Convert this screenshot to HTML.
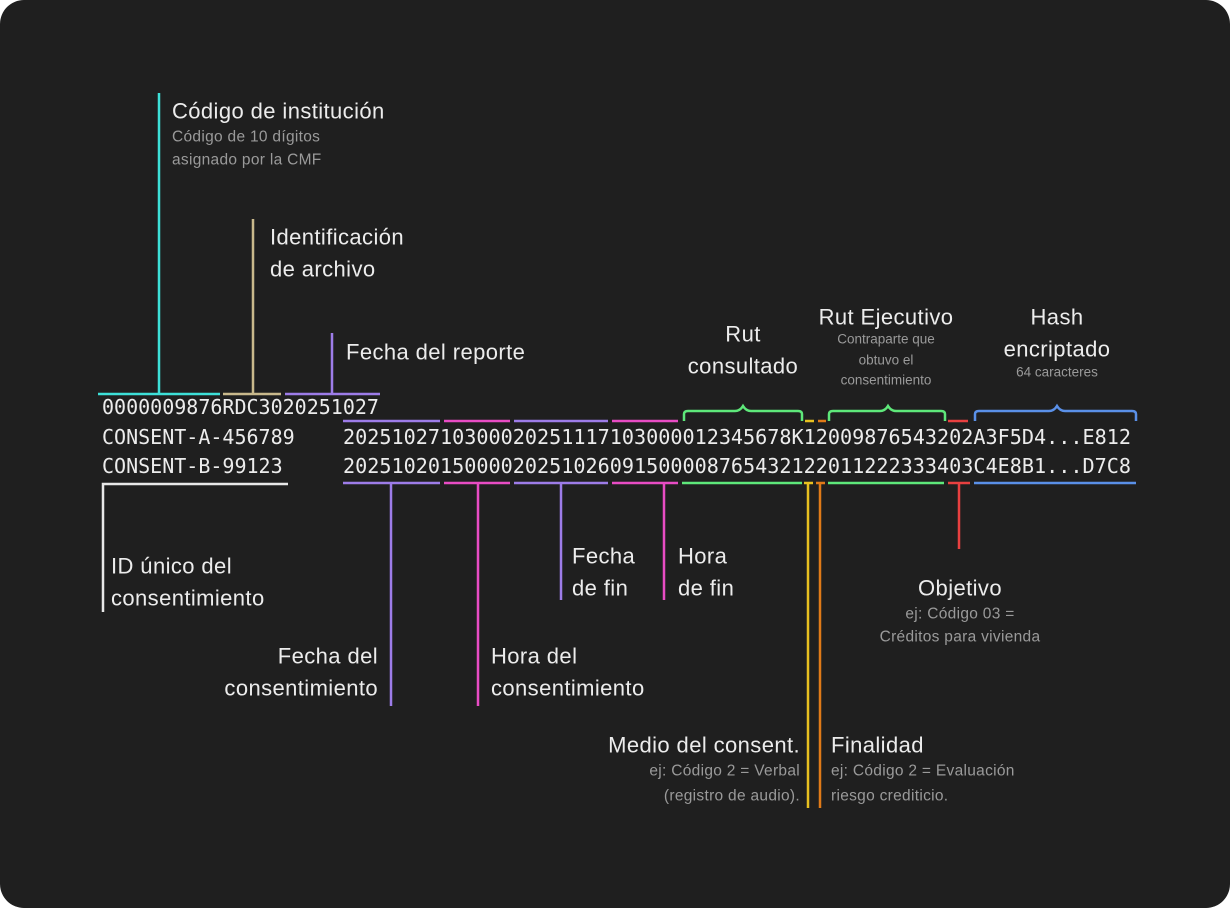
<!DOCTYPE html>
<html><head><meta charset="utf-8"><style>
html,body{margin:0;padding:0;background:#fff;}
svg{display:block}
.l{font-family:"Liberation Sans",sans-serif;font-size:22px;fill:#ececec;letter-spacing:0.4px}
.s{font-family:"Liberation Sans",sans-serif;font-size:15.5px;fill:#9a9a9a;letter-spacing:0.3px}
.xs{font-family:"Liberation Sans",sans-serif;font-size:13.5px;fill:#9a9a9a}
.m{font-family:"DejaVu Sans Mono","Liberation Mono",monospace;font-size:20px;fill:#ececec}
</style></head><body>
<svg width="1230" height="908" viewBox="0 0 1230 908">
<rect x="0" y="0" width="1230" height="908" rx="24" fill="#1f1f1f"/>
<g fill="none" stroke-width="2.5">
<path d="M159 93V394M98 394H220" stroke="#3de0d8"/>
<path d="M253 219V394M223 394H281" stroke="#c9b98c"/>
<path d="M332 333V394M285 394H380" stroke="#9d7ce8"/>
<path d="M343 421H440M514 421H608" stroke="#9d7ce8"/>
<path d="M444 421H510M612 421H678" stroke="#e84cc4"/>
<path d="M805 421H814" stroke="#e8c020"/>
<path d="M818 421H826" stroke="#e07a18"/>
<path d="M948 421H968" stroke="#e84040"/>
<path d="M684 421V414Q684 411 688 411H735Q740 411 743 406Q746 411 751 411H798Q802 411 802 414V421" stroke="#5ee87a"/>
<path d="M829 421V414Q829 411 833 411H880Q885 411 888 406Q891 411 896 411H941Q945 411 945 414V421" stroke="#5ee87a"/>
<path d="M975 421V414Q975 411 979 411H1049Q1054 411 1057 406Q1060 411 1065 411H1132Q1136 411 1136 414V421" stroke="#5a90e8"/>
<path d="M343 483H440M514 483H608M391 483V706M561 483V600" stroke="#9d7ce8"/>
<path d="M444 483H510M612 483H678M478 483V706M664 483V600" stroke="#e84cc4"/>
<path d="M682 483H802M828 483H944" stroke="#5ee87a"/>
<path d="M804 483H813M808 483V808" stroke="#e8c020"/>
<path d="M816 483H825M820 483V808" stroke="#e07a18"/>
<path d="M948 483H970M959 483V549" stroke="#e84040"/>
<path d="M974 483H1136" stroke="#5a90e8"/>
<path d="M288 484H103V612" stroke="#e8e8e8"/>
</g>
<g class="m" dominant-baseline="central">
<text x="102" y="407">0000009876RDC3020251027</text>
<text x="102" y="437">CONSENT-A-456789</text>
<text x="102" y="466">CONSENT-B-99123</text>
<text x="343" y="437" textLength="788" lengthAdjust="spacingAndGlyphs">2025102710300020251117103000012345678K12009876543202A3F5D4...E812</text>
<text x="343" y="466" textLength="788" lengthAdjust="spacingAndGlyphs">2025102015000020251026091500008765432122011222333403C4E8B1...D7C8</text>
</g>
<g dominant-baseline="central">
<text class="l" x="172" y="111">Código de institución</text>
<text class="s" x="172" y="137">Código de 10 dígitos</text>
<text class="s" x="172" y="160">asignado por la CMF</text>
<text class="l" x="270" y="237">Identificación</text>
<text class="l" x="270" y="269">de archivo</text>
<text class="l" x="346" y="352">Fecha del reporte</text>
<text class="l" x="743" y="334" text-anchor="middle">Rut</text>
<text class="l" x="743" y="366" text-anchor="middle">consultado</text>
<text class="l" x="886" y="317" text-anchor="middle">Rut Ejecutivo</text>
<text class="xs" x="886" y="339" text-anchor="middle">Contraparte que</text>
<text class="xs" x="886" y="360" text-anchor="middle">obtuvo el</text>
<text class="xs" x="886" y="380" text-anchor="middle">consentimiento</text>
<text class="l" x="1057" y="317" text-anchor="middle">Hash</text>
<text class="l" x="1057" y="349" text-anchor="middle">encriptado</text>
<text class="xs" x="1057" y="372" text-anchor="middle">64 caracteres</text>
<text class="l" x="111" y="566">ID único del</text>
<text class="l" x="111" y="598">consentimiento</text>
<text class="l" x="572" y="556">Fecha</text>
<text class="l" x="572" y="588">de fin</text>
<text class="l" x="678" y="556">Hora</text>
<text class="l" x="678" y="588">de fin</text>
<text class="l" x="960" y="588" text-anchor="middle">Objetivo</text>
<text class="s" x="960" y="614" text-anchor="middle">ej: Código 03 =</text>
<text class="s" x="960" y="637" text-anchor="middle">Créditos para vivienda</text>
<text class="l" x="378" y="656" text-anchor="end">Fecha del</text>
<text class="l" x="378" y="688" text-anchor="end">consentimiento</text>
<text class="l" x="491" y="656">Hora del</text>
<text class="l" x="491" y="688">consentimiento</text>
<text class="l" x="800" y="745" text-anchor="end">Medio del consent.</text>
<text class="s" x="800" y="771" text-anchor="end">ej: Código 2 = Verbal</text>
<text class="s" x="800" y="796" text-anchor="end">(registro de audio).</text>
<text class="l" x="831" y="745">Finalidad</text>
<text class="s" x="831" y="771">ej: Código 2 = Evaluación</text>
<text class="s" x="831" y="796">riesgo crediticio.</text>
</g>
</svg>
</body></html>
